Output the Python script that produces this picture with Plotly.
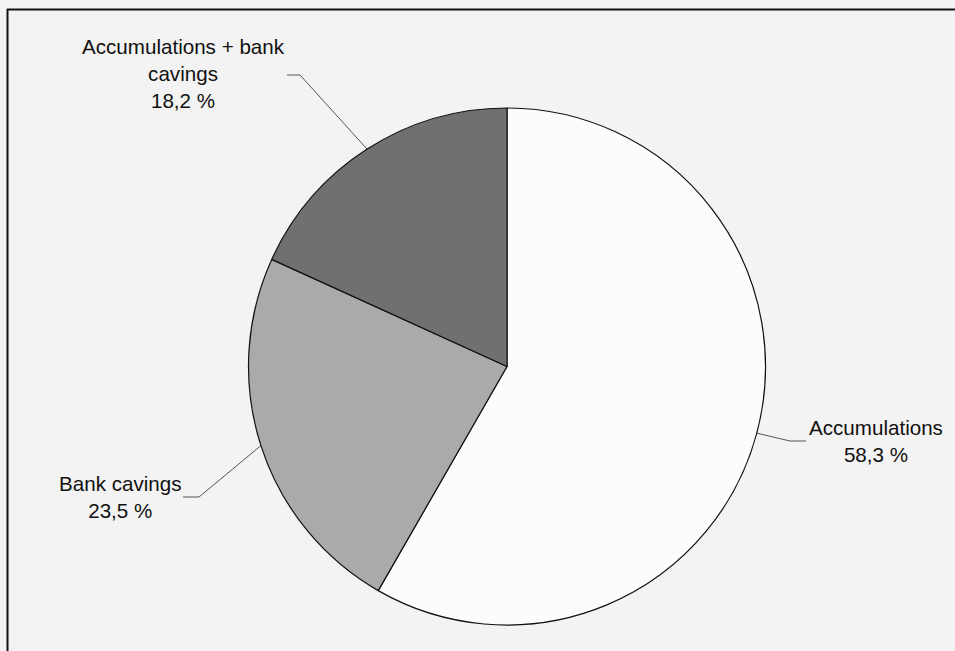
import math
import plotly.graph_objects as go

# ---- data ----
categories = ["Accumulations", "Bank cavings", "Accumulations + bank<br>cavings"]
values = [58.3, 23.5, 18.2]
colors = ["#fcfcfc", "#a9aba9", "#6f716f"]

# ---- layout constants (pixels) ----
W, H = 955, 651
CX, CY, R = 507, 366.5, 258.5
# label elbow point, tail end point, text centre
label_pos = [
    dict(elbow=(790, 441), tail=(806, 441), tx=876, ty=441),
    dict(elbow=(199, 497), tail=(183, 497), tx=120, ty=497),
    dict(elbow=(300, 75), tail=(287, 75), tx=183, ty=73),
]

fig = go.Figure()

fig.add_trace(go.Pie(
    labels=categories, values=values, sort=False, direction="clockwise",
    rotation=0, marker=dict(colors=colors, line=dict(color="#111111", width=1.2)),
    textinfo="none", hoverinfo="skip", showlegend=False,
    domain=dict(x=[(CX - R) / W, (CX + R) / W], y=[(H - CY - R) / H, (H - CY + R) / H]),
))

# leader lines + labels derived from slice mid angles
total = sum(values)
cum = 0.0
annotations = []
for cat, v, lp in zip(categories, values, label_pos):
    mid = (cum + v / 2) / total * 2 * math.pi
    cum += v
    px = CX + R * math.sin(mid)
    py = CY - R * math.cos(mid)
    ex, ey = lp["elbow"]
    tx_, ty_ = lp["tail"]
    fig.add_trace(go.Scatter(
        x=[px, ex, tx_], y=[py, ey, ty_], mode="lines",
        line=dict(color="#555555", width=1), hoverinfo="skip", showlegend=False,
        xaxis="x", yaxis="y",
    ))
    pct = f"{v:.1f}".replace(".", ",") + " %"
    annotations.append(dict(
        x=lp["tx"], y=lp["ty"], xref="x", yref="y", text=f"{cat}<br>{pct}",
        showarrow=False, font=dict(family="Liberation Sans, Arial", size=20.6, color="#111111"),
        align="center", xanchor="center", yanchor="middle",
    ))

# page frame (top and left edges visible)
shapes = [
    dict(type="line", xref="x", yref="y", x0=7, y0=9.5, x1=W + 5, y1=9.5,
         line=dict(color="#111111", width=2)),
    dict(type="line", xref="x", yref="y", x0=7.5, y0=9, x1=7.5, y1=H + 5,
         line=dict(color="#111111", width=2)),
]

fig.update_layout(
    width=W, height=H, margin=dict(l=0, r=0, t=0, b=0),
    paper_bgcolor="#f3f3f3", plot_bgcolor="rgba(0,0,0,0)",
    xaxis=dict(range=[0, W], visible=False, fixedrange=True),
    yaxis=dict(range=[H, 0], visible=False, fixedrange=True),
    annotations=annotations, shapes=shapes, showlegend=False,
)

fig.write_html("out.html")
